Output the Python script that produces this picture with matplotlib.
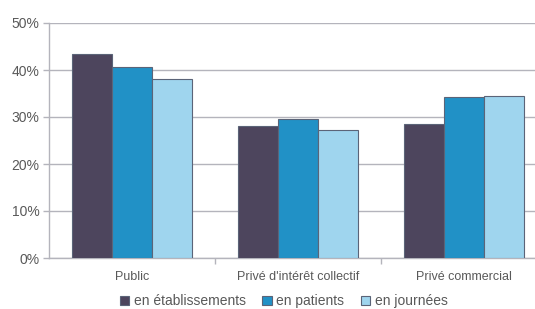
import matplotlib
matplotlib.use("Agg")
import matplotlib.pyplot as plt
import numpy as np

categories = ["Public", "Privé d'intérêt collectif", "Privé commercial"]
series_names = ["en établissements", "en patients", "en journées"]
etablissements = [43.4, 28.1, 28.5]
patients = [40.7, 29.5, 34.3]
journees = [38.1, 27.2, 34.4]
yticks = [0, 10, 20, 30, 40, 50]
ytick_labels = ["0%", "10%", "20%", "30%", "40%", "50%"]

colors = ["#4d455d", "#2191c6", "#9fd5ee"]
edge = "#5b6478"
text_c = "#595959"
grid_c = "#b4b4bc"

plt.rcParams['font.family'] = ['Liberation Sans', 'DejaVu Sans']

fig = plt.figure(figsize=(5.35, 3.09), dpi=100)
ax = fig.add_axes([49/535, 51/309, 498/535, 235/309])

x = np.arange(len(categories))
w = 0.24
for i, (vals, name) in enumerate(zip([etablissements, patients, journees], series_names)):
    ax.bar(x + (i - 1) * w, vals, width=w, color=colors[i], edgecolor=edge,
           linewidth=0.8, label=name, zorder=3)

ax.set_xlim(-0.5, 2.5)
ax.set_ylim(0, 50)
ax.set_yticks(yticks)
ax.set_yticklabels(ytick_labels, fontsize=10, color=text_c)
ax.yaxis.grid(True, color=grid_c, linewidth=1.0, zorder=0)
ax.set_axisbelow(True)

ax.set_xticks(x)
ax.set_xticklabels(categories, fontsize=9, color=text_c)
ax.tick_params(axis='x', length=0, pad=9)
ax.set_xticks([0.5, 1.5], minor=True)
ax.tick_params(axis='x', which='minor', length=4, color=grid_c, width=1.0)
ax.tick_params(axis='y', length=4, color=grid_c, width=1.0, pad=3)

for s in ['top', 'right']:
    ax.spines[s].set_visible(False)
for s in ['left', 'bottom']:
    ax.spines[s].set_color(grid_c)
    ax.spines[s].set_linewidth(1.0)

leg = fig.legend(loc='lower center', bbox_to_anchor=(0.53, -0.038), ncol=3,
                 frameon=False, fontsize=10, handlelength=0.7, handleheight=0.7,
                 handletextpad=0.3, columnspacing=1.2)
for t in leg.get_texts():
    t.set_color(text_c)

fig.savefig("out.png", dpi=100)
